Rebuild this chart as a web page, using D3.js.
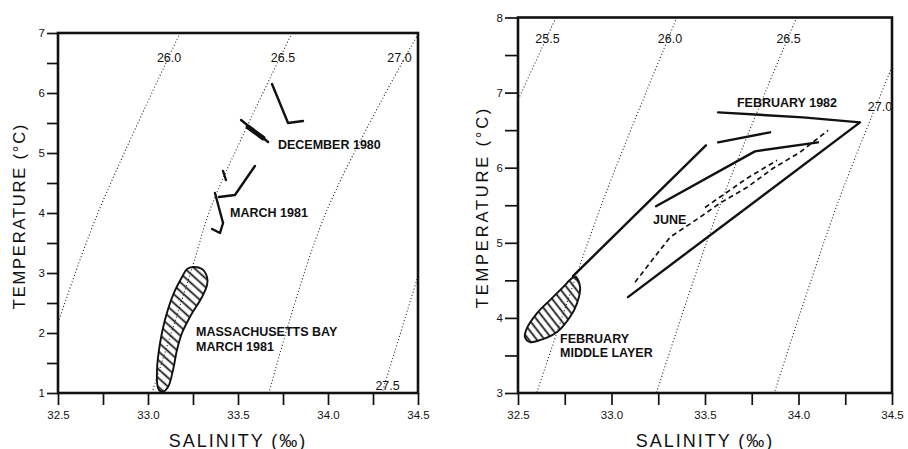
<!DOCTYPE html>
<html>
<head>
<meta charset="utf-8">
<script src="https://cdn.jsdelivr.net/npm/d3@7"></script>
<style>
  body { margin: 0; background: #fff; }
  svg text { font-family: "Liberation Sans", Arial, Helvetica, sans-serif; fill: #111; }
</style>
</head>
<body>
<svg id="chart" width="908" height="449"></svg>
<script>
// ---------- axis ticks ----------
const salinityTicks = [32.5, 32.75, 33.0, 33.25, 33.5, 33.75, 34.0, 34.25, 34.5];
const salinityTickLabels = ["32.5", "", "33.0", "", "33.5", "", "34.0", "", "34.5"];
const leftTempTicks = [1, 1.5, 2, 2.5, 3, 3.5, 4, 4.5, 5, 5.5, 6, 6.5, 7];
const leftTempTickLabels = ["1", "", "2", "", "3", "", "4", "", "5", "", "6", "", "7"];
const rightTempTicks = [3, 3.5, 4, 4.5, 5, 5.5, 6, 6.5, 7, 7.5, 8];
const rightTempTickLabels = ["3", "", "4", "", "5", "", "6", "", "7", "", "8"];

// ---------- left panel: sigma-t isopycnals (salinity, temperature) ----------
const leftSigmaLabels = ["26.0", "26.5", "27.0", "27.5"];
const leftSigmaLabelAt = [[33.117, 6.6], [33.75, 6.6], [34.397, 6.6], [34.331, 1.13]];
const leftIsopycnals = [
  [[33.178, 7.0], [32.717, 3.967], [32.5, 2.167]],
  [[33.80, 7.0], [33.528, 5.3], [33.344, 4.05], [33.25, 3.133], [33.022, 1.0]],
  [[34.5, 6.98], [33.983, 3.967], [33.672, 1.0]],
  [[34.5, 2.95], [34.3, 1.0]]
];

// December 1980 profiles
const dec1980A = [[33.689, 6.15], [33.778, 5.5], [33.861, 5.533]];
const dec1980B = [[33.517, 5.55], [33.667, 5.183]];
const dec1980BCore = [[33.556, 5.433], [33.639, 5.25]];
// March 1981 profiles
const mar1981A = [[33.417, 4.70], [33.433, 4.55]];
const mar1981B = [[33.594, 4.783], [33.483, 4.30], [33.394, 4.267]];
const mar1981C = [[33.372, 4.333], [33.417, 3.833], [33.40, 3.667], [33.356, 3.733]];
// Massachusetts Bay, March 1981 envelope
const massBay = [
  [33.250, 3.100], [33.300, 3.067], [33.328, 2.933], [33.328, 2.800], [33.300, 2.600],
  [33.233, 2.267], [33.189, 2.000], [33.161, 1.717], [33.139, 1.383], [33.111, 1.100],
  [33.078, 1.017], [33.056, 1.083], [33.050, 1.383], [33.067, 1.833], [33.094, 2.217],
  [33.139, 2.633], [33.189, 2.933], [33.217, 3.067]
];
const leftTexts = [
  {text: "DECEMBER 1980", at: [33.722, 5.067]},
  {text: "MARCH 1981", at: [33.456, 3.933]},
  {text: "MASSACHUSETTS BAY", at: [33.267, 1.95]},
  {text: "MARCH 1981", at: [33.267, 1.70]}
];

// ---------- right panel ----------
const rightSigmaLabels = ["25.5", "26.0", "26.5", "27.0"];
const rightSigmaLabelAt = [[32.658, 7.727], [33.313, 7.727], [33.947, 7.727], [34.436, 6.816]];
const rightIsopycnals = [
  [[32.703, 8.0], [32.5, 6.90]],
  [[33.35, 8.0], [32.95, 5.53], [32.60, 3.0]],
  [[33.99, 8.0], [33.58, 5.5], [33.24, 3.0]],
  [[34.5, 7.34], [34.21, 5.53], [33.87, 3.0]]
];
// February 1982 profiles
const feb1982A = [[33.570, 6.737], [34.024, 6.670], [34.329, 6.604], [33.088, 4.277]];
const feb1982B = [[32.794, 4.556], [33.505, 6.298]];
const feb1982C = [[33.570, 6.338], [33.848, 6.471]];
// June profiles
const juneSolid = [[33.238, 5.487], [33.767, 6.218], [34.104, 6.338]];
const juneDashA = [
  [33.126, 4.476], [33.313, 5.074], [33.473, 5.340], [33.580, 5.527],
  [33.725, 5.739], [33.864, 5.992], [34.008, 6.205], [34.158, 6.497]
];
const juneDashB = [[33.500, 5.470], [33.725, 5.860], [33.885, 6.098]];
// February middle layer envelope
const febMiddle = [
  [32.810, 4.543], [32.832, 4.410], [32.816, 4.197], [32.778, 4.011], [32.709, 3.811],
  [32.634, 3.718], [32.564, 3.678], [32.537, 3.745], [32.548, 3.864], [32.602, 4.064],
  [32.671, 4.237], [32.741, 4.410], [32.789, 4.529]
];
const rightTexts = [
  {text: "FEBRUARY 1982", at: [33.671, 6.803]},
  {text: "JUNE", at: [33.222, 5.247]},
  {text: "FEBRUARY", at: [32.725, 3.665]},
  {text: "MIDDLE LAYER", at: [32.725, 3.479]}
];

// ---------- drawing ----------
const svg = d3.select("#chart");
const defs = svg.append("defs");

// diagonal hatching for the water-mass envelopes
function hatch(id, angle, gap) {
  const p = defs.append("pattern")
    .attr("id", id)
    .attr("patternUnits", "userSpaceOnUse")
    .attr("width", 10).attr("height", gap)
    .attr("patternTransform", `rotate(${angle})`);
  p.append("line")
    .attr("x1", 0).attr("x2", 10).attr("y1", gap / 2).attr("y2", gap / 2)
    .attr("stroke", "#111").attr("stroke-width", 1.7);
}
hatch("hatchL", 42, 6.6);
hatch("hatchR", 52, 6.2);

function panel(cfg) {
  const x = d3.scaleLinear().domain([32.5, 34.5]).range([cfg.x0, cfg.x1]);
  const y = d3.scaleLinear().domain(cfg.tDomain).range([cfg.y1, cfg.y0]);
  const g = svg.append("g");
  const line = d3.line().x(d => x(d[0])).y(d => y(d[1]));
  const smooth = d3.line().x(d => x(d[0])).y(d => y(d[1])).curve(d3.curveCatmullRom);
  const closed = d3.line().x(d => x(d[0])).y(d => y(d[1])).curve(d3.curveCatmullRomClosed);

  defs.append("clipPath").attr("id", cfg.id + "clip")
    .append("rect").attr("x", cfg.x0).attr("y", cfg.y0)
    .attr("width", cfg.x1 - cfg.x0).attr("height", cfg.y1 - cfg.y0);

  // isopycnals
  const iso = g.append("g").attr("clip-path", `url(#${cfg.id}clip)`);
  cfg.isopycnals.forEach(pts => {
    iso.append("path").attr("d", smooth(pts))
      .attr("fill", "none").attr("stroke", "#222")
      .attr("stroke-width", 1.1).attr("stroke-dasharray", "1 2.3");
  });
  cfg.sigmaLabels.forEach((t, i) => {
    g.append("text").attr("x", x(cfg.sigmaAt[i][0])).attr("y", y(cfg.sigmaAt[i][1]))
      .attr("dy", "0.36em").attr("text-anchor", "middle")
      .attr("font-size", 12.5).text(t);
  });

  // envelopes
  cfg.blobs.forEach(b => {
    g.append("path").attr("d", closed(b.pts))
      .attr("fill", `url(#${b.pattern})`).attr("stroke", "#111").attr("stroke-width", 1.9);
  });

  // profiles
  cfg.solid.forEach(pts => {
    g.append("path").attr("d", line(pts)).attr("fill", "none")
      .attr("stroke", "#111").attr("stroke-width", 2.4)
      .attr("stroke-linejoin", "round").attr("stroke-linecap", "round");
  });
  (cfg.heavy || []).forEach(pts => {
    g.append("path").attr("d", line(pts)).attr("fill", "none")
      .attr("stroke", "#111").attr("stroke-width", 4.8).attr("stroke-linecap", "round");
  });
  (cfg.dashed || []).forEach(pts => {
    g.append("path").attr("d", line(pts)).attr("fill", "none")
      .attr("stroke", "#111").attr("stroke-width", 1.7)
      .attr("stroke-dasharray", "5 3.5");
  });

  cfg.texts.forEach(t => {
    g.append("text").attr("x", x(t.at[0])).attr("y", y(t.at[1]))
      .attr("font-size", 12.5).attr("font-weight", "bold").text(t.text);
  });

  // axes
  const xa = d3.axisBottom(x).tickValues(salinityTicks)
    .tickFormat((d, i) => salinityTickLabels[i])
    .tickSize(12).tickPadding(6).tickSizeOuter(0);
  const gx = g.append("g").attr("transform", `translate(0,${cfg.y1})`).call(xa);
  const ya = d3.axisLeft(y).tickValues(cfg.tTicks)
    .tickFormat((d, i) => cfg.tLabels[i])
    .tickSize(cfg.ytick).tickPadding(2).tickSizeOuter(0);
  const gy = g.append("g").attr("transform", `translate(${cfg.x0},0)`).call(ya);
  [gx, gy].forEach(a => {
    a.select(".domain").remove();
    a.selectAll(".tick line").attr("stroke", "#111").attr("stroke-width", 1.7);
    a.selectAll(".tick text").attr("font-size", 11.5).attr("fill", "#111")
      .attr("font-family", "Liberation Sans, Arial, sans-serif");
  });

  // frame
  g.append("rect").attr("x", cfg.x0).attr("y", cfg.y0)
    .attr("width", cfg.x1 - cfg.x0).attr("height", cfg.y1 - cfg.y0)
    .attr("fill", "none").attr("stroke", "#111").attr("stroke-width", 2.6);

  // titles
  g.append("text").attr("x", (cfg.x0 + cfg.x1) / 2).attr("y", 446.5)
    .attr("text-anchor", "middle").attr("font-size", 18)
    .attr("letter-spacing", 2).text("SALINITY (‰)");
  g.append("text")
    .attr("transform", `translate(${cfg.ytitleX},${cfg.ytitleY}) rotate(-90)`)
    .attr("text-anchor", "middle").attr("dy", "0.36em")
    .attr("font-size", 16.5).attr("letter-spacing", cfg.ytitleSpacing)
    .text("TEMPERATURE (°C)");
}

panel({
  id: "L", x0: 58, x1: 418, y0: 33, y1: 393, tDomain: [1, 7],
  tTicks: leftTempTicks, tLabels: leftTempTickLabels, ytick: 11,
  isopycnals: leftIsopycnals, sigmaLabels: leftSigmaLabels, sigmaAt: leftSigmaLabelAt,
  blobs: [{pts: massBay, pattern: "hatchL"}],
  solid: [dec1980A, dec1980B, mar1981A, mar1981B, mar1981C],
  heavy: [dec1980BCore],
  texts: leftTexts,
  ytitleX: 19, ytitleY: 216, ytitleSpacing: 1.8
});

panel({
  id: "R", x0: 518, x1: 892, y0: 17.5, y1: 393, tDomain: [3, 8],
  tTicks: rightTempTicks, tLabels: rightTempTickLabels, ytick: 13,
  isopycnals: rightIsopycnals, sigmaLabels: rightSigmaLabels, sigmaAt: rightSigmaLabelAt,
  blobs: [{pts: febMiddle, pattern: "hatchR"}],
  solid: [feb1982A, feb1982B, feb1982C, juneSolid],
  dashed: [juneDashA, juneDashB],
  texts: rightTexts,
  ytitleX: 482, ytitleY: 207, ytitleSpacing: 2.8
});
</script>
</body>
</html>
